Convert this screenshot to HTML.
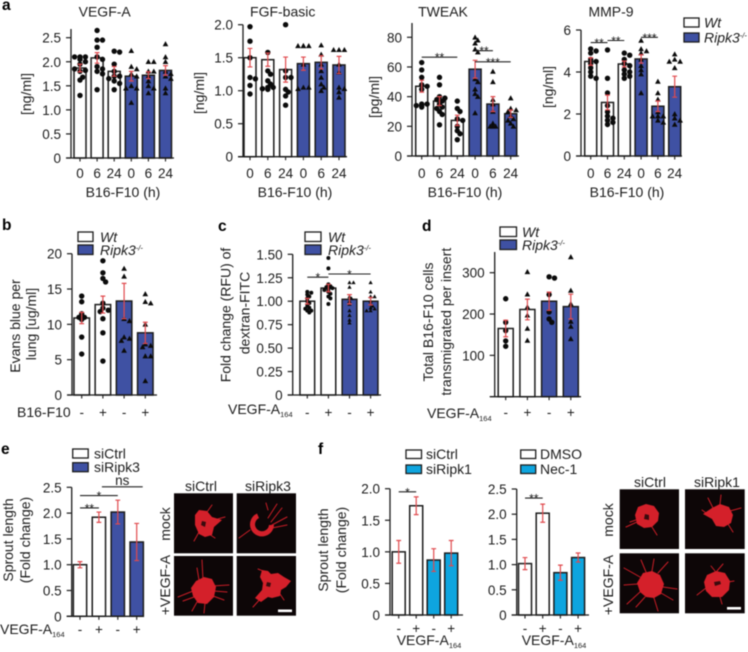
<!DOCTYPE html>
<html lang="en">
<head>
<meta charset="utf-8">
<title>VEGF-A and Ripk3 figure</title>
<style>
html,body{margin:0;padding:0;background:#fff;width:748px;height:652px;overflow:hidden}
svg{display:block;filter:blur(.45px)}
text{font-family:"Liberation Sans",Arial,sans-serif;fill:#1c1c1c}
</style>
</head>
<body>
<svg id="figure" xmlns="http://www.w3.org/2000/svg" width="748" height="652" viewBox="0 0 748 652"></svg>
<script>
/* ---------- shared categories ---------- */
const timeCategories = ['0','6','24','0','6','24'];
const signCategories = ['-','+','-','+'];
const group6Kinds = ['wt','wt','wt','ko','ko','ko'];
const group4Kinds = ['wt','wt','ko','ko'];

/* ---------- panel a: VEGF-A ---------- */
const vegfTicks = [0,0.5,1,1.5,2,2.5];
const vegfMeans = [1.87,2.08,1.8,1.7,1.72,1.82];
const vegfErrors = [0.08,0.11,0.1,0.1,0.07,0.1];
const vegfPoints = [
 [1.3,1.62,1.68,1.8,1.82,1.85,1.95,2.0,2.05,2.1,2.1,2.1],
 [2.65,2.45,2.45,2.3,2.1,2.05,1.9,1.85,1.8,1.75,1.42],
 [2.22,2.2,1.95,1.8,1.7,1.7,1.65,1.6,1.55,1.42],
 [2.23,1.9,1.85,1.75,1.7,1.5,1.45,1.45,1.15],
 [2.0,2.0,1.8,1.8,1.7,1.6,1.5,1.45,1.35],
 [2.37,2.1,2.0,1.8,1.75,1.7,1.65,1.45,1.35]
];

/* ---------- panel a: FGF-basic ---------- */
const fgfTicks = [0,0.5,1,1.5,2];
const fgfMeans = [1.5,1.47,1.32,1.41,1.43,1.39];
const fgfErrors = [0.14,0.1,0.19,0.1,0.1,0.13];
const fgfPoints = [
 [1.97,1.75,1.5,1.2,1.18,1.08,0.95],
 [1.58,1.3,1.25,1.15,1.1,1.05,1.05,1.03,1.02],
 [2.0,1.3,1.2,1.2,1.02,0.98,0.92,0.78],
 [1.68,1.68,1.68,1.68,1.4,1.05,1.05,1.03],
 [1.69,1.55,1.4,1.3,1.2,1.1,1.05,1.0],
 [1.62,1.62,1.62,1.4,1.28,1.05,1.03,0.98,0.9]
];

/* ---------- panel a: TWEAK ---------- */
const tweakTicks = [0,20,40,60,80];
const tweakMeans = [47,37,24,58.5,35,28.5];
const tweakErrors = [4,3,3.5,6,5,2.5];
const tweakPoints = [
 [63,58,53,48,47,45,35,35,34,34,33],
 [53,48,40,39,38,37,35,33,32,30,28,21],
 [37,32,30,25,24,20,17,15,11],
 [80,78,76,72,70,52,50,45,42,40,29],
 [57,50,38,35,30,22,20,20,20],
 [39,32,31,30,27,25,24,22,20]
];
const tweakSignificance = [[0,2,66.6,'**'],[3,4,71,'**'],[3,5,63.5,'***']];

/* ---------- panel a: MMP-9 ---------- */
const mmpTicks = [0,2,4,6];
const mmpMeans = [4.5,2.55,4.38,4.62,2.37,3.3];
const mmpErrors = [0.18,0.35,0.14,0.2,0.25,0.5];
const mmpPoints = [
 [5.1,5.0,4.9,4.6,4.5,4.4,4.2,4.0,3.8,3.7],
 [5.05,3.7,3.0,2.4,2.1,1.9,1.8,1.7,1.6,1.5],
 [4.9,4.8,4.6,4.4,4.3,4.1,4.0,3.9,3.8,3.7],
 [5.5,5.1,5.0,4.9,4.6,4.3,4.1,3.9,3.0],
 [3.55,3.0,2.7,2.1,1.9,1.9,1.9,1.7,1.6],
 [4.85,4.6,4.5,4.5,4.2,2.0,1.8,1.7,1.5]
];
const mmpSignificance = [[0,1,5.4,'**'],[1,2,5.5,'**'],[3,4,5.65,'***']];

/* ---------- panel b ---------- */
const evansTicks = [0,5,10,15,20];
const evansMeans = [10.9,12.8,13.3,8.8];
const evansErrors = [0.8,1.2,2.5,1.5];
const evansPoints = [
 [14,13.2,11.5,11,11,10.8,10.7,8.2,5.8],
 [19,17.3,16.5,16,13,12.3,12,11.8,10.8,8.8,4.8],
 [17.9,16.8,10.8,10.5,8.2,8,7.7,6.3],
 [14.3,13.2,13,10,7.2,7,6.8,5.5,5.5,2]
];

/* ---------- panel c ---------- */
const dextranTicks = [0,0.25,0.5,0.75,1,1.25,1.5];
const dextranMeans = [1.0,1.14,1.02,1.0];
const dextranErrors = [0.03,0.04,0.05,0.04];
const dextranPoints = [
 [1.1,1.09,1.07,1.05,1.03,1.0,0.98,0.95,0.93,0.92,0.9,0.9,0.88],
 [1.46,1.35,1.18,1.16,1.15,1.14,1.13,1.12,1.1,1.08,1.05,1.03,0.97],
 [1.2,1.2,1.15,1.05,1.03,1.0,0.97,0.9,0.85,0.8,0.77],
 [1.2,1.1,1.05,1.05,1.0,0.97,0.95,0.93,0.92,0.9,0.9]
];
const dextranSignificance = [[0,1,1.256,'*'],[1,3,1.29,'*']];

/* ---------- panel d ---------- */
const transTicks = [100,200,300];
const transMeans = [165,211,231,218];
const transErrors = [20,25,22,30];
const transPoints = [
 [237,180,160,135,122],
 [302,248,217,197,165,136],
 [290,287,247,205,188,180],
 [338,257,225,182,170,140]
];
const transMarkers = ['dot','tri','dot','tri'];

/* ---------- panel e ---------- */
const sproutETicks = [0,0.5,1,1.5,2,2.5];
const sproutEMeans = [1.0,1.92,2.02,1.44];
const sproutEErrors = [0.06,0.1,0.23,0.36];
const sproutESignificance = [[0,1,2.1,'**'],[0,2,2.34,'*'],[1,3,2.51,'ns']];

/* ---------- panel f ---------- */
const sproutF1Ticks = [0,0.5,1,1.5,2];
const sproutF1Means = [1.0,1.73,0.87,0.98];
const sproutF1Errors = [0.18,0.14,0.18,0.2];
const sproutF1Significance = [[0,1,1.95,'*']];
const sproutF2Ticks = [0,0.5,1,1.5,2,2.5];
const sproutF2Means = [1.02,2.02,0.84,1.14];
const sproutF2Errors = [0.12,0.18,0.15,0.09];
const sproutF2Significance = [[0,1,2.32,'**']];

/* ---------- drawing helpers ---------- */
const NS = 'http://www.w3.org/2000/svg';
const root = document.getElementById('figure');
const BLUE = '#3f51a3', CYAN = '#0ea5df', RED = '#e04a4e', INK = '#1c1c1c';

function add(parent, tag, attrs, name) {
  const el = document.createElementNS(NS, tag);
  for (const k in attrs) el.setAttribute(k, attrs[k]);
  
  
  parent.appendChild(el);
  return el;
}
function label(parent, x, y, str, attrs, name) {
  const el = add(parent, 'text', Object.assign({x: x, y: y, 'font-size': 14}, attrs || {}), name);
  el.textContent = str;
  return el;
}
function rotated(parent, x, cy, str, name) {
  return label(parent, x, cy, str, {'text-anchor': 'middle', transform: 'rotate(-90 ' + x + ' ' + cy + ')'}, name);
}
function vegfSub(parent, x, y, name) {
  const t = label(parent, x, y, 'VEGF-A', {}, name);
  const s = add(t, 'tspan', {'font-size': 7.5, dy: 3}, 'subscript-164');
  s.textContent = '164';
  return t;
}
function formatTick(v, decimals) {
  if (v === 0) return '0';
  return v.toFixed(decimals);
}
function swarm(values, y, r) {
  const placed = [];
  const step = r * 1.0;
  values.forEach(function (v) {
    const py = y(v);
    const order = [0, 1, -1, 2, -2];
    let chosen = 0;
    for (let i = 0; i < order.length; i++) {
      const ox = order[i] * step;
      const hit = placed.some(function (p) { return Math.hypot(p.ox - ox, p.py - py) < r * 1.35; });
      if (!hit) { chosen = ox; break; }
    }
    placed.push({ox: chosen, py: py});
  });
  return placed;
}
function drawPanel(c) {
  const g = add(root, 'g', {}, c.name);
  const tickMax = c.ticks[c.ticks.length - 1];
  const y = function (v) { return c.y0 - (v / tickMax) * (c.y0 - c.yMax); };
  const x = function (i) { return c.firstX + i * c.step; };
  const barW = c.barW;
  const fillFor = c.koFill || BLUE;
  const r = c.r || 2.7;
  const dec = c.decimals || 0;

  c.means.forEach(function (m, i) {
    const top = y(m);
    add(g, 'rect', {
      x: x(i) - barW / 2, y: top, width: barW, height: c.y0 - top,
      fill: c.kinds[i] === 'wt' ? '#fff' : fillFor, stroke: INK, 'stroke-width': 1.5
    }, 'bar-' + c.short + '-' + i);
  });
  if (c.points) {
    c.points.forEach(function (vals, i) {
      const marker = c.markers ? c.markers[i] : (c.kinds[i] === 'wt' ? 'dot' : 'tri');
      swarm(vals, y, r).forEach(function (p) {
        const px = x(i) + p.ox;
        if (marker === 'dot') {
          add(g, 'circle', {cx: px, cy: p.py, r: r, fill: '#0b0b0b'}, 'data-point-' + c.short);
        } else {
          const s = r * 1.05;
          add(g, 'path', {d: 'M' + px + ' ' + (p.py - s) + 'L' + (px + s) + ' ' + (p.py + s * 0.8) + 'L' + (px - s) + ' ' + (p.py + s * 0.8) + 'Z', fill: '#0b0b0b'}, 'data-point-' + c.short);
        }
      });
    });
  }
  c.means.forEach(function (m, i) {
    const hi = y(m + c.errors[i]), lo = y(m - c.errors[i]), cap = 2.4;
    add(g, 'path', {
      d: 'M' + x(i) + ' ' + hi + 'V' + lo + 'M' + (x(i) - cap) + ' ' + hi + 'h' + (2 * cap) + 'M' + (x(i) - cap) + ' ' + lo + 'h' + (2 * cap),
      fill: 'none', stroke: RED, 'stroke-width': 1.2
    }, 'error-bar-' + c.short + '-' + i);
  });

  /* axes */
  add(g, 'line', {x1: c.axisX, x2: c.axisX, y1: c.axisTop, y2: c.y0, stroke: INK, 'stroke-width': 1.3}, 'y-axis-' + c.short);
  add(g, 'line', {x1: c.axisX - 5, x2: c.axisEnd, y1: c.y0, y2: c.y0, stroke: INK, 'stroke-width': 1.3}, 'x-axis-' + c.short);
  c.ticks.forEach(function (t) {
    add(g, 'line', {x1: c.axisX - 5, x2: c.axisX, y1: y(t), y2: y(t), stroke: INK, 'stroke-width': 1.2}, 'y-tick-' + c.short);
    label(g, c.axisX - 10, y(t) + 5, formatTick(t, dec), {'text-anchor': 'end', 'font-size': 13.5}, 'y-tick-label-' + c.short);
  });
  c.categories.forEach(function (cat, i) {
    add(g, 'line', {x1: x(i), x2: x(i), y1: c.y0, y2: c.y0 + 3.5, stroke: INK, 'stroke-width': 1.1}, 'x-tick-' + c.short);
    label(g, x(i), c.catY, cat, {'text-anchor': 'middle', 'font-size': 13.5}, 'x-tick-label-' + c.short);
  });

  /* significance */
  (c.significance || []).forEach(function (s) {
    const sy = y(s[2]);
    const isText = s[3] === 'ns';
    const a = x(s[0]) + (isText ? 3 : 0), b = x(s[1]) + (isText ? 6 : 0);
    add(g, 'line', {x1: a, x2: b, y1: sy, y2: sy, stroke: '#222', 'stroke-width': 1.1}, 'significance-line-' + c.short);
    label(g, (a + b) / 2, isText ? sy - 2 : sy + 4.5, s[3], {'text-anchor': 'middle', 'font-size': isText ? 13.5 : 12}, 'significance-label-' + c.short);
  });
  return g;
}
function legend(x, y1, y2, boxW, boxH, textX, wtText, koText, koFill, italic, name) {
  const g = add(root, 'g', {}, name);
  add(g, 'rect', {x: x, y: y1, width: boxW, height: boxH, fill: '#fff', stroke: INK, 'stroke-width': 1.3}, 'legend-swatch-control');
  add(g, 'rect', {x: x, y: y2, width: boxW, height: boxH, fill: koFill, stroke: INK, 'stroke-width': 1.3}, 'legend-swatch-treatment');
  const st = italic ? {'font-style': 'italic'} : {};
  label(g, textX, y1 + boxH + 0.5, wtText, st, 'legend-entry-control');
  const t = label(g, textX, y2 + boxH + 0.5, koText, st, 'legend-entry-treatment');
  if (italic) {
    const sup = add(t, 'tspan', {'font-size': 7.5, dy: -4.5}, 'legend-superscript');
    sup.textContent = '-/-';
  }
}

/* ---------- panel letters ---------- */
[['a',2,10],['b',2,230],['c',218,231],['d',422,231],['e',1,454],['f',318,454]].forEach(function (p) {
  label(root, p[1], p[2], p[0], {'font-weight': 'bold', 'font-size': 15.5, style: 'fill:#000'}, 'panel-letter-' + p[0]);
});

/* ---------- row a ---------- */
drawPanel({name:'vegf-a-chart', short:'vegf', decimals:1, ticks:vegfTicks, means:vegfMeans, errors:vegfErrors, points:vegfPoints, kinds:group6Kinds, categories:timeCategories,
  axisX:71, axisTop:29, axisEnd:174, y0:158, yMax:37.7, firstX:80, step:17.1, barW:12, catY:178});
drawPanel({name:'fgf-basic-chart', short:'fgf', decimals:1, ticks:fgfTicks, means:fgfMeans, errors:fgfErrors, points:fgfPoints, kinds:group6Kinds, categories:timeCategories,
  axisX:243, axisTop:24.7, axisEnd:347, y0:156.7, yMax:24.7, firstX:250, step:17.8, barW:12, catY:178});
drawPanel({name:'tweak-chart', short:'tweak', ticks:tweakTicks, means:tweakMeans, errors:tweakErrors, points:tweakPoints, kinds:group6Kinds, categories:timeCategories, significance:tweakSignificance,
  axisX:412, axisTop:23, axisEnd:519, y0:156, yMax:37.3, firstX:421.7, step:17.8, barW:12, catY:178});
drawPanel({name:'mmp-9-chart', short:'mmp', ticks:mmpTicks, means:mmpMeans, errors:mmpErrors, points:mmpPoints, kinds:group6Kinds, categories:timeCategories, significance:mmpSignificance,
  axisX:581, axisTop:30, axisEnd:682, y0:156, yMax:30, firstX:590.7, step:16.8, barW:12, catY:178});

label(root, 104.7, 16.7, 'VEGF-A', {'text-anchor':'middle'}, 'vegf-a-title');
label(root, 282.7, 16.7, 'FGF-basic', {'text-anchor':'middle'}, 'fgf-basic-title');
label(root, 443, 16.7, 'TWEAK', {'text-anchor':'middle'}, 'tweak-title');
label(root, 611, 16.7, 'MMP-9', {'text-anchor':'middle'}, 'mmp-9-title');
[123,295,465,627].forEach(function (cx) {
  label(root, cx, 197, 'B16-F10 (h)', {'text-anchor':'middle'}, 'x-axis-title');
});
rotated(root, 31, 94, '[ng/ml]', 'vegf-y-axis-title');
rotated(root, 204, 93, '[ng/ml]', 'fgf-y-axis-title');
rotated(root, 379, 97, '[pg/ml]', 'tweak-y-axis-title');
rotated(root, 553, 87, '[ng/ml]', 'mmp-y-axis-title');
legend(684, 18, 33, 15, 9, 704, 'Wt', 'Ripk3', BLUE, true, 'legend-a');

/* ---------- row b c d ---------- */
drawPanel({name:'evans-blue-chart', short:'evans', ticks:evansTicks, means:evansMeans, errors:evansErrors, points:evansPoints, kinds:group4Kinds, categories:signCategories,
  axisX:72, axisTop:253.7, axisEnd:157, y0:395, yMax:253.7, firstX:81.7, step:21.2, barW:15.5, catY:417});
label(root, 17, 417, 'B16-F10', {}, 'evans-x-axis-title');
rotated(root, 20, 326, 'Evans blue per', 'evans-y-axis-title-1');
rotated(root, 36, 324, 'lung [ug/ml]', 'evans-y-axis-title-2');
legend(78, 232, 245, 15, 9.5, 100, 'Wt', 'Ripk3', BLUE, true, 'legend-b');

drawPanel({name:'dextran-chart', short:'dextran', decimals:2, ticks:dextranTicks, means:dextranMeans, errors:dextranErrors, points:dextranPoints, kinds:group4Kinds, categories:signCategories, significance:dextranSignificance, r:2,
  axisX:292.7, axisTop:254.3, axisEnd:381, y0:395, yMax:254.3, firstX:307.3, step:21.1, barW:14.7, catY:417});
vegfSub(root, 228, 414, 'dextran-x-axis-title');
rotated(root, 230.7, 315, 'Fold change (RFU) of', 'dextran-y-axis-title-1');
rotated(root, 249.3, 313, 'dextran-FITC', 'dextran-y-axis-title-2');
legend(305, 232, 245, 16, 9.5, 328, 'Wt', 'Ripk3', BLUE, true, 'legend-c');

drawPanel({name:'transmigration-chart', short:'trans', ticks:transTicks, means:transMeans, errors:transErrors, points:transPoints, markers:transMarkers, kinds:group4Kinds, categories:signCategories,
  axisX:494.7, axisTop:252, axisEnd:581, y0:396.7, yMax:272.7, firstX:505.7, step:21.7, barW:15, catY:417});
vegfSub(root, 427, 418, 'transmigration-x-axis-title');
rotated(root, 433, 322, 'Total B16-F10 cells', 'transmigration-y-axis-title-1');
rotated(root, 451, 321.7, 'transmigrated per insert', 'transmigration-y-axis-title-2');
legend(500, 227, 240, 16.5, 9.5, 522, 'Wt', 'Ripk3', BLUE, true, 'legend-d');

/* ---------- row e f ---------- */
drawPanel({name:'sprout-length-sirip3-chart', short:'sprout-e', decimals:1, ticks:sproutETicks, means:sproutEMeans, errors:sproutEErrors, kinds:group4Kinds, categories:signCategories, significance:sproutESignificance,
  axisX:71.7, axisTop:487.3, axisEnd:144, y0:616.3, yMax:487.3, firstX:80, step:18.9, barW:13.3, catY:634});
vegfSub(root, 0, 634, 'sprout-e-x-axis-title');
rotated(root, 13, 540, 'Sprout length', 'sprout-e-y-axis-title-1');
rotated(root, 30, 540, '(Fold change)', 'sprout-e-y-axis-title-2');
legend(72.7, 449, 462.7, 15.5, 9, 94, 'siCtrl', 'siRipk3', BLUE, false, 'legend-e');

drawPanel({name:'sprout-length-siripk1-chart', short:'sprout-f1', decimals:1, ticks:sproutF1Ticks, means:sproutF1Means, errors:sproutF1Errors, kinds:group4Kinds, categories:signCategories, significance:sproutF1Significance, koFill:CYAN,
  axisX:390, axisTop:488.7, axisEnd:463, y0:615, yMax:488.7, firstX:398.7, step:17.5, barW:13, catY:633});
vegfSub(root, 396.7, 645, 'sprout-f1-x-axis-title');
rotated(root, 328, 550, 'Sprout length', 'sprout-f-y-axis-title-1');
rotated(root, 346, 550, '(Fold change)', 'sprout-f-y-axis-title-2');
legend(406, 450, 465, 15.5, 8.5, 426, 'siCtrl', 'siRipk1', CYAN, false, 'legend-f1');

drawPanel({name:'sprout-length-nec1-chart', short:'sprout-f2', decimals:1, ticks:sproutF2Ticks, means:sproutF2Means, errors:sproutF2Errors, kinds:group4Kinds, categories:signCategories, significance:sproutF2Significance, koFill:CYAN,
  axisX:516.7, axisTop:489, axisEnd:589, y0:615, yMax:489, firstX:525, step:17.7, barW:13, catY:633});
vegfSub(root, 521.7, 645, 'sprout-f2-x-axis-title');
legend(520.7, 450, 465, 15, 8.5, 540, 'DMSO', 'Nec-1', CYAN, false, 'legend-f2');

/* ---------- micrographs (illustrative) ---------- */
function micrograph(x, y, w, h, name, parts) {
  const g = add(root, 'g', {}, name);
  add(g, 'rect', {x: x, y: y, width: w, height: h, fill: '#0d0607'}, name + '-background');
  const clipId = name + '-clip';
  const defs = add(g, 'clipPath', {id: clipId}, name + '-clip-region');
  add(defs, 'rect', {x: x, y: y, width: w, height: h}, name + '-clip-rect');
  const inner = add(g, 'g', {'clip-path': 'url(#' + clipId + ')'}, name + '-organoid');
  add(inner, 'path', {d: parts.sprouts, fill: 'none', stroke: '#c81d26', 'stroke-width': 1, 'stroke-linecap': 'round'}, name + '-sprouts');
  add(inner, 'path', {d: parts.body, fill: '#d4202a'}, name + '-body');
  if (parts.holes) add(inner, 'path', {d: parts.holes, fill: '#3a0b0e'}, name + '-core');
}
micrograph(174,493.3,59,60,'micrograph-sictrl-mock',{
  body:'M199 510L207 511L212 517L222 520L214 527L212 535L205 537L199 534L195 525L195 515Z',
  sprouts:'M214 520L225 517M207 512L212 505M199 532L194 541M209 534L215 538',
  holes:'M202 521l4 1l-1 5l-4-2Z'});
micrograph(236.7,493.3,59.3,60,'micrograph-siripk3-mock',{
  body:'M257 513.5A12 12 0 1 0 274 525L269 525A7 7 0 1 1 259 518Z',
  sprouts:'M268 518L277 504M271 522L282 508M272 525L287 517M272 528L287 525M268 510L266 503M250 530L239 538',
  holes:''});
micrograph(174,556,59,59.7,'micrograph-sictrl-vegf',{
  body:'M196 581L204 577L212 579L216 587L214 597L207 604L198 603L193 596L191 588Z',
  sprouts:'M203 580L202 560M199 580L197 568M193 591L178 597M194 597L183 601M212 586L229 585M214 591L227 592M213 596L224 600M205 603L204 613M197 602L192 611'});
micrograph(236.7,556,59.3,59.7,'micrograph-siripk3-vegf',{
  body:'M262 570L268 571L271 574L278 573L284 577L291 581L286 587L281 590L280 596L272 598L268 597L261 602L255 598L262 590L263 583L260 577Z',
  sprouts:'M262 597L253 607M280 594L284 600M263 571L258 569',
  holes:'M267 582l4 1l-1 4l-4-1Z'});
micrograph(619.7,489.3,59.3,59.7,'micrograph-sictrl-mock-f',{
  body:'M638 507L646 504L654 506L659 513L658 521L652 527L644 528L637 524L635 515Z',
  sprouts:'M637 522L626 527M636 520L630 522M652 527L657 535',
  holes:'M645 514l4 1l0 5l-5-1Z'});
micrograph(685,489.3,59.7,59.7,'micrograph-siripk1-mock',{
  body:'M712 508L720 504L729 507L733 515L731 523L724 527L716 526L712 519L703 514Z',
  sprouts:'M730 511L741 508M720 504L721 495M713 508L708 498M706 513L702 510M728 524L733 532'});
micrograph(619.7,553.3,59.3,60,'micrograph-sictrl-vegf-f',{
  body:'M643 573L652 571L660 575L664 584L661 594L654 598L646 597L640 592L637 583Z',
  sprouts:'M640 577L624 568M646 572L641 560M652 571L654 559M658 573L668 562M663 587L677 589M661 593L673 600M654 598L658 611M645 597L636 607M640 592L627 604M638 584L624 585'});
micrograph(685,553.3,59.7,60,'micrograph-siripk1-vegf',{
  body:'M707 575L716 571L725 573L730 581L729 590L722 597L712 597L706 591L704 582Z',
  sprouts:'M715 571L711 566M717 571L723 564M706 588L697 595M728 582L734 581M720 597L722 604',
  holes:'M714 582l6-1l1 3l-6 2Z'});
add(root, 'rect', {x:278, y:609.5, width:14, height:2.6, fill:'#fff'}, 'scale-bar-e');
add(root, 'rect', {x:727, y:607, width:14, height:2.6, fill:'#fff'}, 'scale-bar-f');

label(root, 201, 491, 'siCtrl', {'text-anchor':'middle'}, 'column-label-sictrl-e');
label(root, 268, 491, 'siRipk3', {'text-anchor':'middle'}, 'column-label-siripk3');
rotated(root, 170, 524, 'mock', 'row-label-mock-e');
rotated(root, 170, 585, '+VEGF-A', 'row-label-vegf-e');
label(root, 650, 487, 'siCtrl', {'text-anchor':'middle'}, 'column-label-sictrl-f');
label(root, 717, 487, 'siRipk1', {'text-anchor':'middle'}, 'column-label-siripk1');
rotated(root, 613, 520, 'mock', 'row-label-mock-f');
rotated(root, 613, 585, '+VEGF-A', 'row-label-vegf-f');
</script>
</body>
</html>
